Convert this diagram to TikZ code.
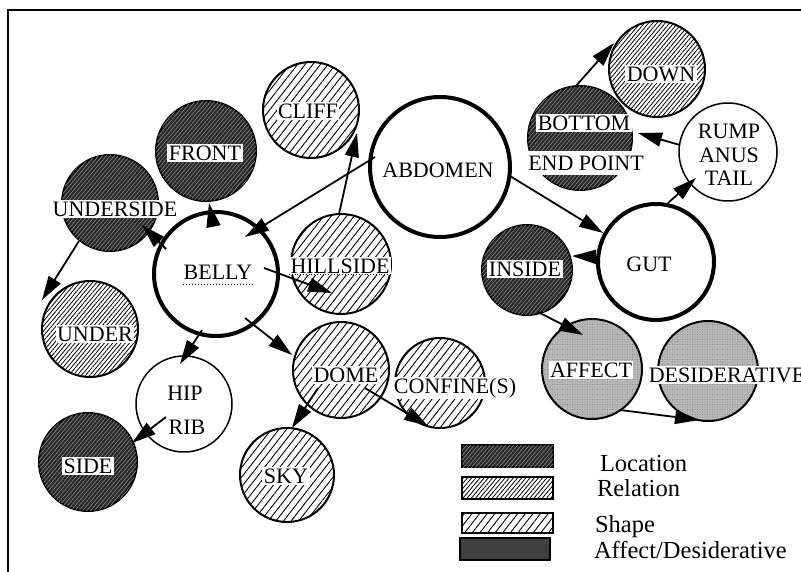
\documentclass[tikz,border=0pt]{standalone}
\usepackage{fontspec}
\setmainfont{Liberation Serif}
\usetikzlibrary{patterns.meta,arrows.meta,calc}
\begin{document}
\begin{tikzpicture}[x=1pt,y=-1pt,
  every node/.style={inner sep=0pt,outer sep=0pt},
  ring/.style={circle,draw,line width=2pt,minimum size=#1},
  thinring/.style={circle,draw,line width=1.5pt,minimum size=#1},
  bigring/.style={circle,draw,line width=4pt,minimum size=#1},
  locfill/.style={fill=black!85,postaction={pattern={Lines[angle=50,distance=3pt,line width=0.6pt]},pattern color=black!45}},
  relfill/.style={pattern={Lines[angle=50,distance=3.2pt,line width=0.8pt]},pattern color=black},
  shpfill/.style={pattern={Lines[angle=52,distance=6pt,line width=0.9pt]},pattern color=black},
  affill/.style={fill=black!28,postaction={pattern={Dots[distance=2.5pt,radius=0.45pt]},pattern color=black!60}},
  lab/.style={fill=white,inner sep=1.5pt,font=\fontsize{22}{23.5}\selectfont},
  plainlab/.style={inner sep=1pt,font=\fontsize{22}{23.5}\selectfont,align=center},
  legtext/.style={anchor=base west,font=\fontsize{24.5}{25}\selectfont},
  legbox/.style={draw,line width=1.5pt},
  arr/.style={line width=1.8pt,-{Triangle[length=24pt,width=14pt]}}
]
\useasboundingbox (0,0) rectangle (801,572);
\draw[line width=2pt] (801,10) -- (8,10) -- (8,572);

% circles
\node[ring=96pt,shpfill] (cliff) at (311,110) {};
\node[ring=100pt,locfill] (front) at (206,151) {};
\node[ring=96pt,locfill] (underside) at (110,203) {};
\node[bigring=124pt] (belly) at (216,274) {};
\node[ring=100pt,shpfill] (hill) at (341,264) {};
\node[bigring=140pt] (abd) at (440,167) {};
\node[ring=96pt,relfill] (down) at (657,69) {};
\node[ring=104pt,locfill] (bottom) at (580,138) {};
\node[thinring=98pt] (rump) at (728,152) {};
\node[bigring=116pt] (gut) at (656,262) {};
\node[ring=90pt,locfill] (inside) at (527,270) {};
\node[ring=100pt,affill] (affect) at (592,369) {};
\node[ring=100pt,affill] (desid) at (708,371) {};
\node[ring=90pt,shpfill] (confine) at (440,383) {};
\node[ring=96pt,shpfill] (dome) at (341,370) {};
\node[ring=94pt,shpfill] (sky) at (287,475) {};
\node[thinring=96pt] (hip) at (184,404) {};
\node[ring=98pt,locfill] (side) at (88,462) {};
\node[ring=96pt,relfill] (under) at (90,329) {};

% connectors
\draw[arr] ($(abd)+(-65,-10)$) -- ($(belly)+(29,-37)$);
\draw[arr] ($(abd)+(70,9)$) -- ($(gut)+(-53,-29)$);
\draw[arr] ($(belly)+(-3,-50)$) -- ($(front)+(3,52)$);
\draw[arr] ($(belly)+(-50,-25)$) -- ($(underside)+(32,22)$);
\draw[arr] ($(underside)+(-31,38)$) -- ($(under)+(-48,-29)$);
\draw[arr] ($(belly)+(48,-6)$) -- ($(hill)+(-9,29)$);
\draw[arr] ($(hill)+(-2,-50)$) -- ($(cliff)+(46,23)$);
\draw[arr] ($(belly)+(-14,56)$) -- ($(hip)+(-4,-40)$);
\draw[arr] ($(belly)+(29,44)$) -- ($(dome)+(-49,-15)$);
\draw[arr] ($(hip)+(-18,13)$) -- ($(side)+(44,-19)$);
\draw[arr] ($(dome)+(-23,18)$) -- ($(sky)+(5,-47)$);
\draw[arr] ($(dome)+(24,18)$) -- ($(confine)+(-12,43)$);
\draw[arr] ($(bottom)+(-5,-51)$) -- ($(down)+(-43,-26)$);
\draw[arr] ($(rump)+(-48,-7)$) -- ($(bottom)+(58,-5)$);
\draw[arr] ($(gut)+(12,-59)$) -- ($(rump)+(-32,26)$);
\draw[arr] ($(gut)+(-56,-5)$) -- ($(inside)+(45,-14)$);
\draw[arr] ($(inside)+(11,42)$) -- ($(affect)+(-9,-34)$);
\draw[arr] ($(affect)+(28,41)$) -- ($(desid)+(-9,49)$);

% labels
\node[lab] (cliffl) at (308,111) {CLIFF};
\node[lab] (frontl) at (205,153) {FRONT};
\node[lab] (undersidel) at (115,209) {UNDERSIDE};
\node[plainlab] (bellyl) at (218,272) {BELLY};
\draw[dotted,line width=1pt] ($(bellyl.south west)+(0,4)$) -- ($(bellyl.south east)+(0,4)$);
\node[lab] (hilll) at (340,266) {HILLSIDE};
\draw[dotted,line width=0.8pt] (hilll.south west) -- (hilll.south east);
\node[plainlab] (abdl) at (438,170) {ABDOMEN};
\node[lab] (downl) at (661,74) {DOWN};
\node[lab] (bottoml) at (584,123) {BOTTOM};
\node[lab,inner ysep=5pt] (endl) at (586,163) {END POINT};
\node[plainlab] (rumpl) at (729,155) {RUMP\\ANUS\\TAIL};
\node[plainlab] (gutl) at (649,264) {GUT};
\node[lab] (insidel) at (525,269) {INSIDE};
\node[lab] (affectl) at (591,370) {AFFECT};
\node[lab] (desidl) at (727,375) {DESIDERATIVE};
\node[lab] (confinel) at (455,388) {CONFINE(S)};
\node[lab] (domel) at (346,375) {DOME};
\node[lab] (skyl) at (286,476) {SKY};
\node[plainlab] (hipl) at (185,393) {HIP};
\node[plainlab] (ribl) at (187,427) {RIB};
\node[lab] (sidel) at (88,466) {SIDE};
\node[lab] (underl) at (95,334) {UNDER};

% legend
\draw[legbox,locfill] (462,445) rectangle (553,467);
\draw[legbox,relfill] (462,477) rectangle (553,499);
\draw[legbox,shpfill] (462,513) rectangle (553,533);
\draw[legbox,fill=black!75] (460,538) rectangle (550,560);
\node[legtext] (lg1) at (600,471) {Location};
\node[legtext] (lg2) at (597,496) {Relation};
\node[legtext] (lg3) at (595,532) {Shape};
\node[legtext] (lg4) at (594,558) {Affect/Desiderative};
\end{tikzpicture}
\end{document}
